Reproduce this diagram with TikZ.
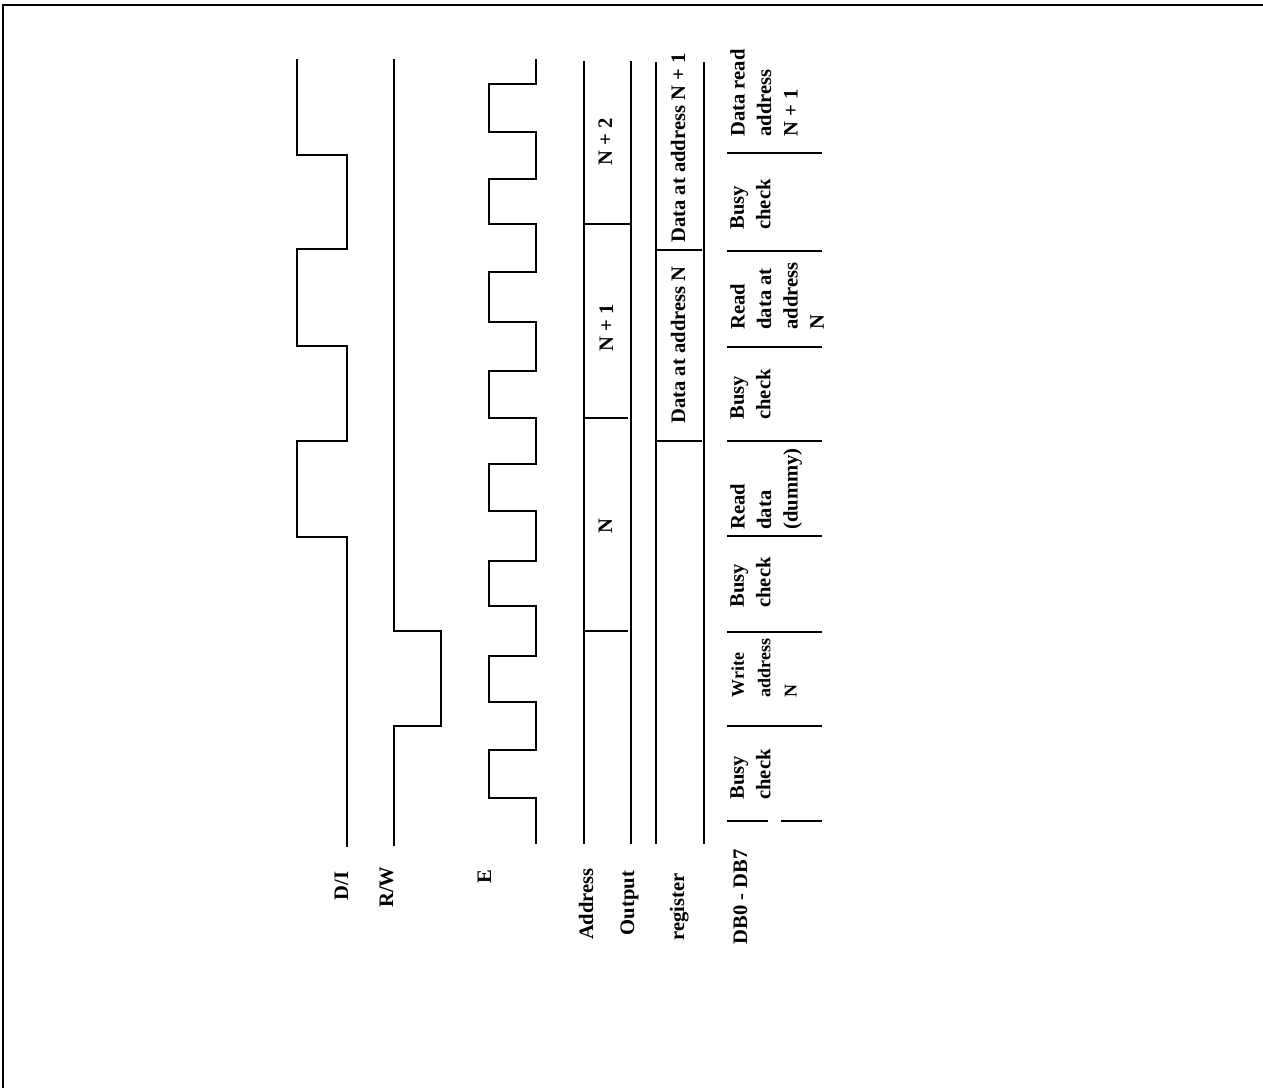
\documentclass[tikz,border=0pt]{standalone}
\usepackage{fontspec}
\setmainfont{Liberation Serif}

\begin{document}
\begin{tikzpicture}[
    x=0.5pt, y=-0.5pt,
    sig/.style={line width=1.35pt},
    lbl/.style={rotate=90, inner sep=0pt, anchor=base, font=\fontsize{10.3}{13.2}\selectfont\bfseries},
    cell/.style={rotate=90, inner sep=0pt, anchor=north west, align=left, font=\fontsize{10.3}{13.2}\selectfont\bfseries}
]
    \useasboundingbox (0,0) rectangle (1263,1088);
    % frame
    \draw[sig] (3,1088) -- (3,5) -- (1263,5);

    % D/I
    \draw[sig] (347,847) -- (347,537) -- (297,537) -- (297,441) -- (347,441) -- (347,346)
        -- (297,346) -- (297,249) -- (347,249) -- (347,155) -- (297,155) -- (297,59);
    % R/W
    \draw[sig] (394,59) -- (394,631) -- (441,631) -- (441,726) -- (394,726) -- (394,846);
    % E
    \draw[sig] (536,844) foreach \a/\b in {798/750, 702/656, 606/561, 511/464, 418/371, 322/272, 224/179, 132/84} {
        -- (536,\a) -- (489,\a) -- (489,\b) -- (536,\b) } -- (536,59);

    % Address
    \draw[sig] (584,61) -- (584,844);
    \draw[sig] (631,61) -- (631,844);
    \draw[sig] (584,631) -- (628,631);
    \draw[sig] (584,418) -- (628,418);
    \draw[sig] (584,224) -- (631,224);
    \node[lbl] (adrN) at (612,526) {N};
    \node[lbl] (adrN1) at (613,328) {N + 1};
    \node[lbl] (adrN2) at (612,142) {N + 2};

    % Output register
    \draw[sig] (656,62) -- (656,844);
    \draw[sig] (704,62) -- (704,844);
    \draw[sig] (656,441) -- (702,441);
    \draw[sig] (656,250) -- (702,250);
    \node[lbl] (outN) at (685,345) {Data at address N};
    \node[lbl] (outN1) at (685,148) {Data at address N + 1};

    % DB0 - DB7
    \draw[sig] (727,821) -- (768,821);
    \draw[sig] (781,821) -- (822,821);
    \foreach \y in {726, 632, 536, 441, 347, 251, 153}
        \draw[sig] (727,\y) -- (822,\y);
    \node[cell] (db1) at (730,800) {Busy\\check};
    \node[cell, font=\fontsize{9}{13.2}\selectfont\bfseries] (db2) at (731,698) {Write\\address\\N};
    \node[cell] (db3) at (730,608) {Busy\\check};
    \node[cell] (db4) at (730,530) {Read\\data\\(dummy)};
    \node[cell] (db5) at (730,420) {Busy\\check};
    \node[cell] (db6) at (730,330) {Read\\data at\\address\\N};
    \node[cell] (db7) at (730,230) {Busy\\check};
    \node[cell] (db8) at (730,137) {Data read\\address\\N + 1};

    % signal names
    \node[lbl] (nDI) at (348,886) {D/I};
    \node[lbl] (nRW) at (393,887) {R/W};
    \node[lbl] (nE) at (491,877) {E};
    \node[lbl] (nAdr) at (593,904) {Address};
    \node[lbl] (nOut) at (634,903) {Output};
    \node[lbl] (nReg) at (684,907) {register};
    \node[lbl] (nDB) at (747,897) {DB0 - DB7};
\end{tikzpicture}
\end{document}
